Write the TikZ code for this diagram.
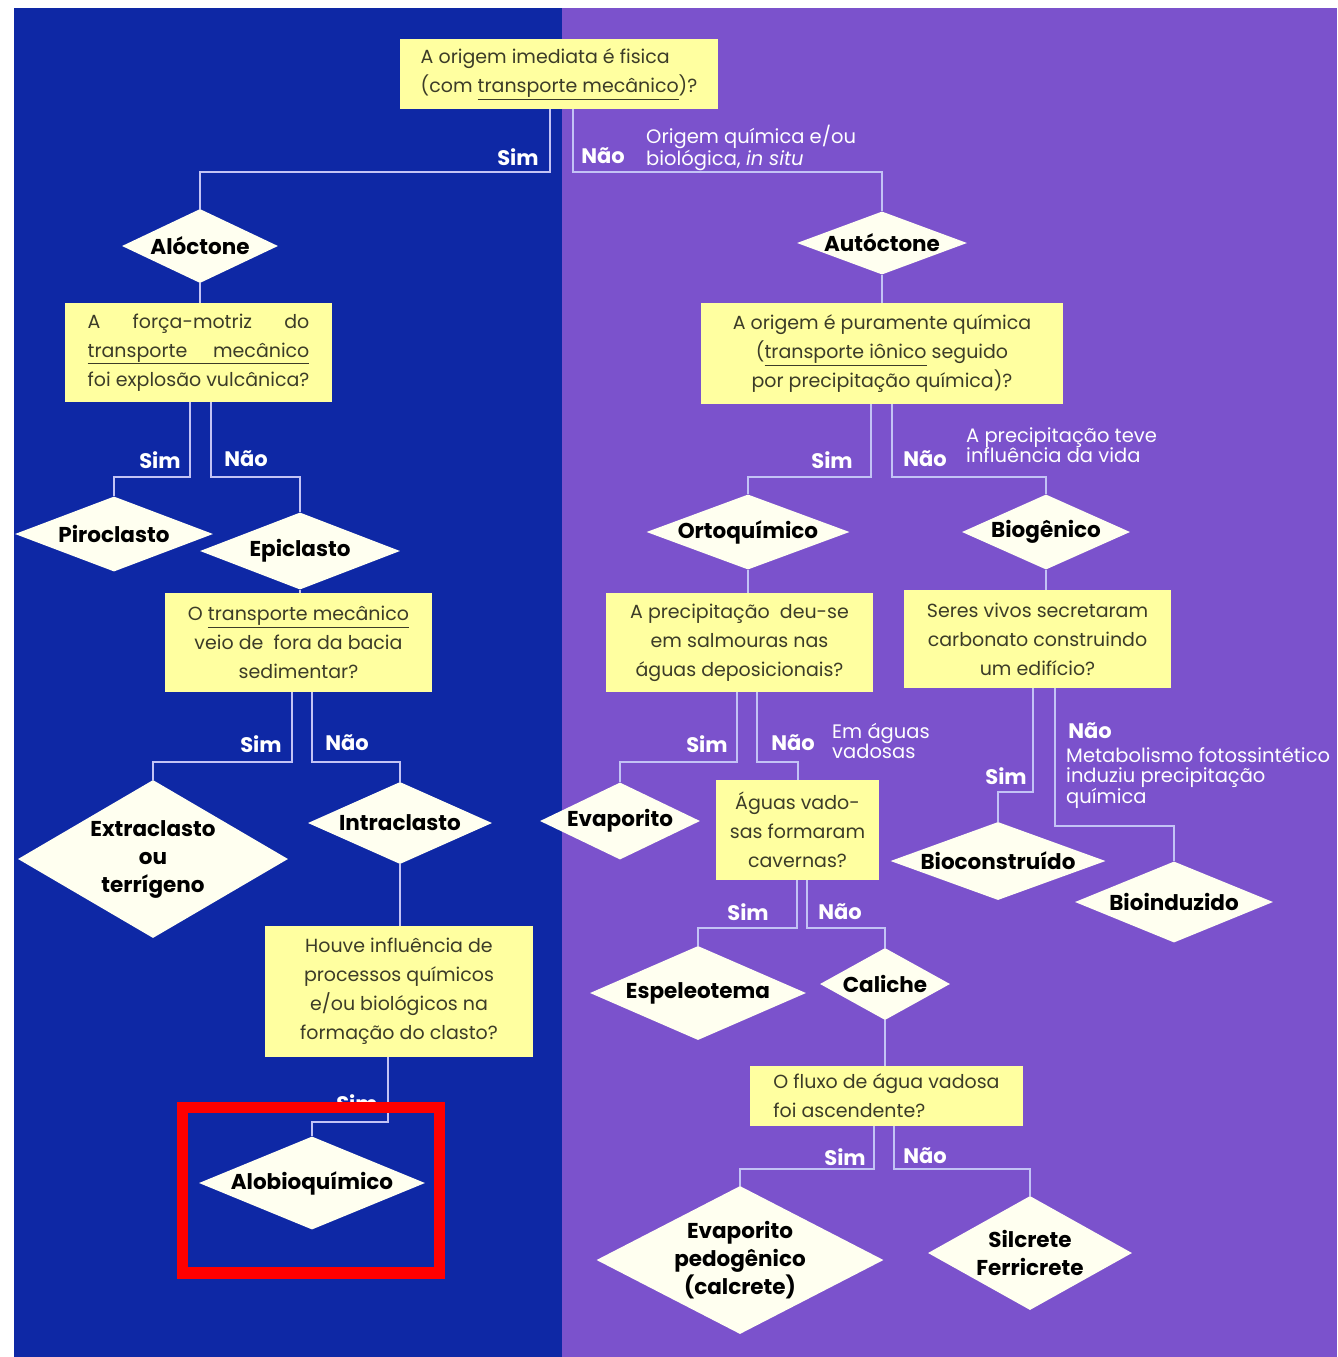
\documentclass[tikz,border=0pt]{standalone}
\usepackage{fontspec}
\setmainfont{Poppins}
\usetikzlibrary{shapes.geometric}
\definecolor{bgblue}{RGB}{14,40,165}
\definecolor{bgpurple}{RGB}{123,82,204}
\definecolor{boxyellow}{RGB}{255,255,160}
\definecolor{diafill}{RGB}{255,255,240}
\definecolor{boxtext}{RGB}{60,60,40}
\definecolor{linecol}{RGB}{195,195,245}
\newlength\jw
\newcommand\dnode[6]{\node[dia, minimum width=#4pt, minimum height=#5pt, label={[dtext]center:{#6}}] (#1) at (#2,#3) {};}
\begin{document}
\settowidth\jw{\fontsize{19}{29}\selectfont foi explosão vulcânica?}
\begin{tikzpicture}[x=1pt,y=-1pt,
 qbox/.style={fill=boxyellow, text=boxtext, font=\fontsize{19}{29}\selectfont, inner sep=0pt, align=center},
 dia/.style={shape=diamond, fill=diafill, inner sep=0pt},
 dtext/.style={font=\fontsize{21.5}{28}\selectfont\bfseries, text=black, align=center, inner sep=0pt},
 lab/.style={font=\fontsize{21}{24}\selectfont\bfseries, text=white, inner sep=0pt},
 note/.style={font=\fontsize{19.5}{20.5}\selectfont, text=white, align=left, inner sep=0pt, anchor=north west},
 conn/.style={draw=linecol, line width=2pt}]
\useasboundingbox (0,0) rectangle (1338,1357);
\fill[bgblue] (14,8) rectangle (562,1357);
\fill[bgpurple] (562,8) rectangle (1337,1357);
% question boxes
\node[qbox, minimum width=318pt, minimum height=70pt, align=left] (q1) at (559,74)
 {A origem imediata é fisica\\(com \underline{transporte mecânico})?};
\node[qbox, minimum width=267pt, minimum height=99pt, align=left] (q2) at (198.5,352.5)
 {\makebox[\jw][s]{A força-motriz do}\\\underline{\makebox[\jw][s]{transporte mecânico}}\\foi explosão vulcânica?};
\node[qbox, minimum width=267pt, minimum height=99pt] (q3) at (298.5,642.5)
 {O \underline{transporte mecânico}\\veio de\ \ fora da bacia\\sedimentar?};
\node[qbox, minimum width=268pt, minimum height=131pt] (q4) at (399,991.5)
 {Houve influência de\\processos químicos\\e/ou biológicos na\\formação do clasto?};
\node[qbox, minimum width=362pt, minimum height=101pt] (q5) at (882,353.5)
 {A origem é puramente química\\(\underline{transporte iônico} seguido\\por precipitação química)?};
\node[qbox, minimum width=267pt, minimum height=99pt] (q6) at (739.5,642.5)
 {A precipitação\ \ deu-se\\em salmouras nas\\águas deposicionais?};
\node[qbox, minimum width=267pt, minimum height=98pt] (q7) at (1037.5,639)
 {Seres vivos secretaram\\carbonato construindo\\um edifício?};
\node[qbox, minimum width=163pt, minimum height=100pt] (q8) at (797.5,830)
 {Águas vado-\\sas formaram\\cavernas?};
\node[qbox, minimum width=273pt, minimum height=60pt, align=left] (q9) at (886.5,1096)
 {O fluxo de água vadosa\\foi ascendente?};
% diamonds
\dnode{alo}{200}{246}{156}{74}{Alóctone}
\dnode{auto}{882}{243}{170}{63}{Autóctone}
\dnode{piro}{114}{534}{198}{75}{Piroclasto}
\dnode{epi}{300}{551}{200}{77}{Epiclasto}
\dnode{extra}{153}{859}{270}{158}{Extraclasto\\ou\\terrígeno}
\dnode{intra}{400}{823}{184}{82}{Intraclasto}
\dnode{alobio}{312}{1183}{226}{93}{Alobioquímico}
\dnode{orto}{748}{532}{203}{75}{Ortoquímico}
\dnode{bio}{1046}{532}{168}{75}{Biogênico}
\dnode{evap}{620}{821}{160}{77}{Evaporito}
\dnode{espe}{698}{993}{216}{94}{Espeleotema}
\dnode{cali}{885}{984}{130}{72}{Caliche}
\dnode{evped}{740}{1260}{287}{148}{Evaporito\\pedogênico\\(calcrete)}
\dnode{silc}{1030}{1253}{204}{114}{Silcrete\\Ferricrete}
\dnode{biocon}{998}{861}{215}{78}{Bioconstruído}
\dnode{bioind}{1174}{902}{198}{81}{Bioinduzido}
% connectors
\coordinate (c1) at (550,172); \coordinate (c2) at (573,172);
\draw[conn] (q1.south -| c1) -- (c1) -| (alo.north);
\draw[conn] (q1.south -| c2) -- (c2) -| (auto.north);
\draw[conn] (alo.south) -- (alo.south |- q2.north);
\coordinate (c3) at (190,477); \coordinate (c4) at (211,477);
\draw[conn] (q2.south -| c3) -- (c3) -| (piro.north);
\draw[conn] (q2.south -| c4) -- (c4) -| (epi.north);
\draw[conn] (epi.south) -- (epi.south |- q3.north);
\coordinate (c5) at (292,762); \coordinate (c6) at (312,762);
\draw[conn] (q3.south -| c5) -- (c5) -| (extra.north);
\draw[conn] (q3.south -| c6) -- (c6) -| (intra.north);
\draw[conn] (intra.south) -- (intra.south |- q4.north);
\coordinate (c7) at (388,1122);
\draw[conn] (q4.south -| c7) -- (c7) -| (alobio.north);
\draw[conn] (auto.south) -- (auto.south |- q5.north);
\coordinate (c8) at (871,477); \coordinate (c9) at (892,477);
\draw[conn] (q5.south -| c8) -- (c8) -| (orto.north);
\draw[conn] (q5.south -| c9) -- (c9) -| (bio.north);
\draw[conn] (orto.south) -- (orto.south |- q6.north);
\draw[conn] (bio.south) -- (bio.south |- q7.north);
\coordinate (c10) at (737,762); \coordinate (c11) at (757,762);
\draw[conn] (q6.south -| c10) -- (c10) -| (evap.north);
\draw[conn] (q6.south -| c11) -- (c11) -| (q8.north);
\coordinate (c12) at (797,928); \coordinate (c13) at (807,928);
\draw[conn] (q8.south -| c12) -- (c12) -| (espe.north);
\draw[conn] (q8.south -| c13) -- (c13) -| (cali.north);
\draw[conn] (cali.south) -- (cali.south |- q9.north);
\coordinate (c14) at (874,1169); \coordinate (c15) at (894,1169);
\draw[conn] (q9.south -| c14) -- (c14) -| (evped.north);
\draw[conn] (q9.south -| c15) -- (c15) -| (silc.north);
\coordinate (c16) at (1033,792); \coordinate (c17) at (1055,826);
\draw[conn] (q7.south -| c16) -- (c16) -| (biocon.north);
\draw[conn] (q7.south -| c17) -- (c17) -| (bioind.north);
% Sim / Nao labels
\node[lab] (l1s) at (518,157) {Sim};  \node[lab] (l1n) at (603,156) {Não};
\node[lab] (l2s) at (160,460) {Sim};  \node[lab] (l2n) at (246,459) {Não};
\node[lab] (l3s) at (261,744) {Sim};  \node[lab] (l3n) at (347,743) {Não};
\node[lab] (l4s) at (357,1103) {Sim};
\node[lab] (l5s) at (832,460) {Sim};  \node[lab] (l5n) at (925,459) {Não};
\node[lab] (l6s) at (707,744) {Sim};  \node[lab] (l6n) at (793,743) {Não};
\node[lab] (l7s) at (748,912) {Sim};  \node[lab] (l7n) at (840,912) {Não};
\node[lab] (l8s) at (845,1157) {Sim}; \node[lab] (l8n) at (925,1156) {Não};
\node[lab] (l9s) at (1006,776) {Sim}; \node[lab] (l9n) at (1090,731) {Não};
% notes
\node[note] (n1) at (646,125) {Origem química e/ou\\biológica, \textit{in situ}};
\node[note] (n2) at (966,427) {A precipitação teve\\influência da vida};
\node[note] (n3) at (832,723) {Em águas\\vadosas};
\node[note] (n4) at (1066,747) {Metabolismo fotossintético\\induziu precipitação\\química};
% highlight
\draw[red, line width=11.5pt] (182.5,1107.5) rectangle (439.5,1273);
\end{tikzpicture}
\end{document}
